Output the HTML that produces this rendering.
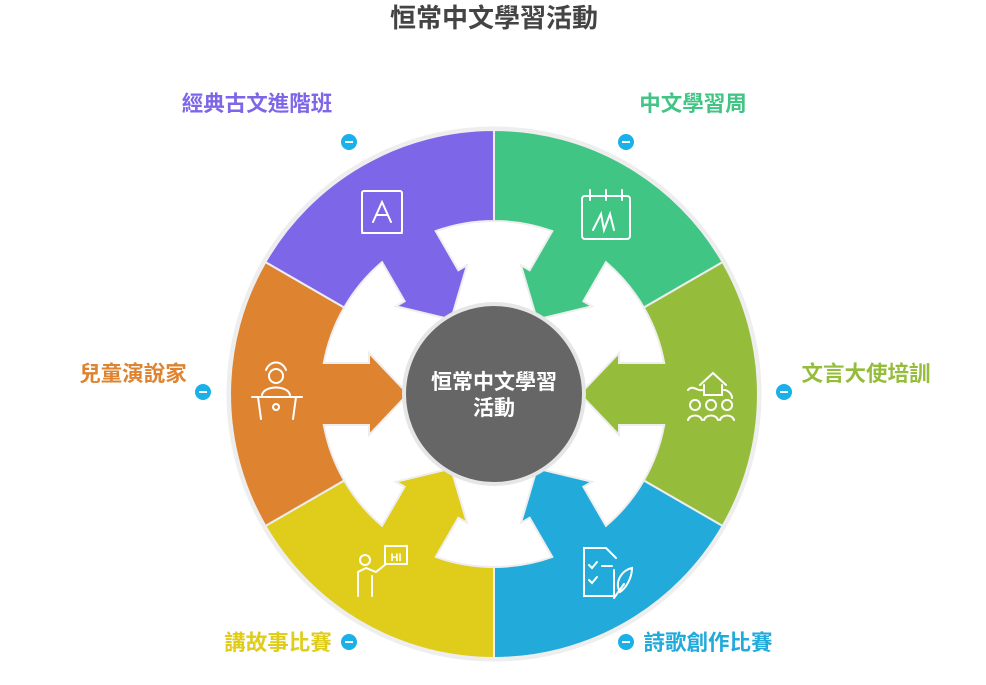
<!DOCTYPE html>
<html><head><meta charset="utf-8"><style>
body{margin:0;background:#fff;width:986px;height:680px;overflow:hidden}
text{font-family:"Liberation Sans","Noto Sans CJK TC",sans-serif;font-weight:bold}
</style></head><body>
<svg width="986" height="680" viewBox="0 0 986 680" xmlns="http://www.w3.org/2000/svg">
<defs>
<path id="seg" d="M149.8,-86.5 L228.6,-132 A264 264 0 0 1 228.6,132 L149.8,86.5 A173 173 0 0 0 170.2,31 L125,31 L125,41 L86,0 L125,-41 L125,-31 L170.2,-31 A173 173 0 0 0 149.8,-86.5 Z"/>
</defs>
<text x="494" y="27" text-anchor="middle" font-size="26" fill="#444">恒常中文學習活動</text>
<circle cx="494" cy="394" r="266" fill="none" stroke="#eee" stroke-width="3"/>
<g transform="translate(494,394)" stroke="#eee" stroke-width="2">
<use href="#seg" fill="#96bc3c"/>
<use href="#seg" fill="#22aadb" transform="rotate(60)"/>
<use href="#seg" fill="#dfcc1b" transform="rotate(120)"/>
<use href="#seg" fill="#de8431" transform="rotate(180)"/>
<use href="#seg" fill="#7e66e8" transform="rotate(240)"/>
<use href="#seg" fill="#40c584" transform="rotate(300)"/>
</g>
<circle cx="494" cy="394" r="90" fill="#666" stroke="#e6e6e6" stroke-width="4"/>
<text x="494" y="389" text-anchor="middle" font-size="21" fill="#fff">恒常中文學習</text>
<text x="494" y="415" text-anchor="middle" font-size="21" fill="#fff">活動</text>
<g fill="none" stroke="#fff" stroke-width="2" stroke-linecap="round">
<rect x="582" y="196" width="48" height="43" rx="3"/><path d="M590 190v10M606 190v10M622 190v10M593 230l8-16 3 16 6-16 4 16"/>
<rect x="362" y="191" width="40" height="42" rx="2"/><path d="M362 233h40M373 222l9-20 9 20M376 215h12"/>
<path d="M700 385l13-12 13 12M704 385v10h18v-10M688 390c5-6 10 2 14 0M724 390c4 0 8 4 8 8M695 410a5 5 0 1 1 0.1 0M711 410a5 5 0 1 1 0.1 0M727 410a5 5 0 1 1 0.1 0M688 420c2-6 12-6 14 0M704 420c2-6 12-6 14 0M720 420c2-6 12-6 14 0"/>
<path d="M606 548h-22v48h30v-26M606 548l10 10M589 565l3 3 5-6M589 580l3 3 5-6M602 566h10M620 592c-6-10 2-22 12-24 0 10-6 20-12 24zM614 598l10-14"/>
<rect x="385" y="546" width="22" height="18"/><text x="396" y="561" font-size="11" fill="#fff" stroke="none" text-anchor="middle">HI</text><circle cx="365" cy="560" r="5"/><path d="M358 596v-24l8-4 10 4 10-8M372 576v20"/>
<circle cx="276" cy="376" r="7"/><path d="M266 370c4-10 16-10 20 0M262 395c2-10 26-10 28 0M252 397h50M258 397l3 22M296 397l-3 22M276 410a3 3 0 1 1 .1 0"/>
</g>
<g font-size="21.5">
<text x="693" y="111" text-anchor="middle" fill="#40c584">中文學習周</text>
<text x="866" y="381" text-anchor="middle" fill="#96bc3c">文言大使培訓</text>
<text x="708" y="650" text-anchor="middle" fill="#22aadb">詩歌創作比賽</text>
<text x="278" y="650" text-anchor="middle" fill="#dfcc1b">講故事比賽</text>
<text x="133" y="381" text-anchor="middle" fill="#de8431">兒童演說家</text>
<text x="257" y="111" text-anchor="middle" fill="#7e66e8">經典古文進階班</text>
</g>
<g fill="#1ab0e8">
<circle cx="626" cy="142" r="8"/><circle cx="784" cy="392" r="8"/><circle cx="626" cy="642" r="8"/>
<circle cx="349" cy="642" r="8"/><circle cx="203" cy="392" r="8"/><circle cx="349" cy="142" r="8"/>
</g>
<g stroke="#fff" stroke-width="2">
<path d="M622 142h8M780 392h8M622 642h8M345 642h8M199 392h8M345 142h8"/>
</g>
</svg>
</body></html>
